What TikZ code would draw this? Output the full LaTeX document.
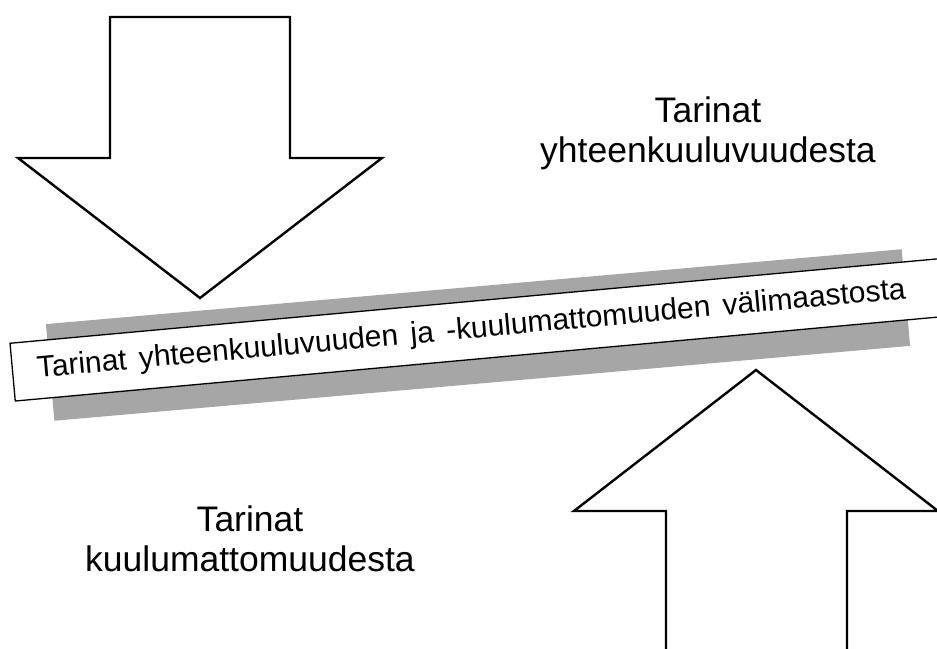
\documentclass[tikz,border=0pt]{standalone}
\usepackage{fontspec}
\setmainfont{Liberation Sans}
\definecolor{barshade}{RGB}{166,166,166}

\begin{document}
\begin{tikzpicture}[
    x=1pt, y=1pt,
    bigarrow/.style={draw=black, line width=2.4pt, fill=white, line join=miter},
    shadowbar/.style={rectangle, fill=barshade, rotate=5.0, minimum width=859pt, minimum height=97pt, inner sep=0pt},
    whitebar/.style={rectangle, draw=black, line width=1.3pt, fill=white, rotate=5.2, minimum width=1000pt, minimum height=58pt, inner sep=0pt, anchor=west},
    bartext/.style={rotate=5.2, anchor=west, inner sep=0pt, font=\fontsize{30}{36}\selectfont},
    story/.style={align=center, anchor=north, inner sep=0pt, font=\fontsize{35.5}{40}\selectfont}
]

\useasboundingbox (0,0) rectangle (937,648);
\clip (0,0) rectangle (937,648);

% Arrow from above
\draw[bigarrow] (110,631) -- (290,631) -- (290,490) -- (382,490) -- (200,350) -- (18,490) -- (110,490) -- cycle;

% Arrow from below, shaft runs off the page
\draw[bigarrow] (666,-10) -- (666,137) -- (574,137) -- (756,278) -- (938,137) -- (847,137) -- (847,-10);

% Shadow behind the band
\node[shadowbar] (shadow) at (478,313) {};

% Band with its text
\node[whitebar] (band) at (12,275.8) {};
\node[bartext] (bandtext) at ([shift={(5.2:25)}]band.west) {\spaceskip=12.5pt Tarinat yhteenkuuluvuuden ja -kuulumattomuuden välimaastosta};

% Labels
\node[story] (together) at (708,551.3) {Tarinat\\yhteenkuuluvuudesta};
\node[story] (apart) at (250,142.5) {Tarinat\\kuulumattomuudesta};

\end{tikzpicture}
\end{document}
